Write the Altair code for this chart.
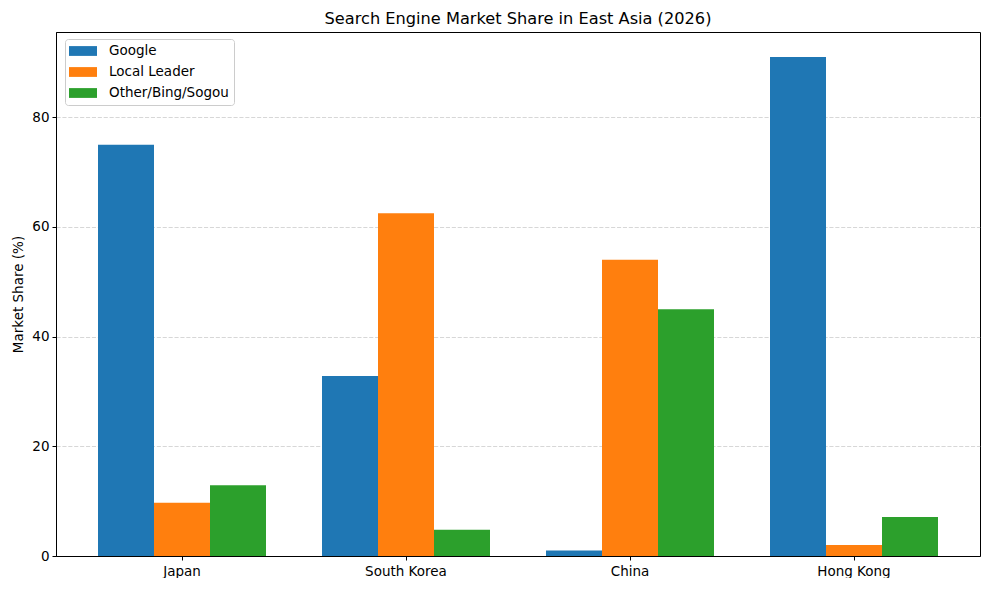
import altair as alt
import pandas as pd

countries = ["Japan", "South Korea", "China", "Hong Kong"]
series = ["Google", "Local Leader", "Other/Bing/Sogou"]
google = [75.0, 32.8, 1.0, 91.0]
local_leader = [9.7, 62.5, 54.0, 2.0]
other = [12.9, 4.8, 45.0, 7.1]
colors = ["#1f77b4", "#ff7f0e", "#2ca02c"]

rows = []
for s, vals in zip(series, [google, local_leader, other]):
    for c, v in zip(countries, vals):
        rows.append({"Country": c, "Engine": s, "Share": v})
df = pd.DataFrame(rows)

FONT = "DejaVu Sans"

chart = alt.Chart(df).mark_bar().encode(
    x=alt.X("Country:N", sort=countries,
            scale=alt.Scale(paddingInner=0.25, paddingOuter=0.1875),
            axis=alt.Axis(title=None, labelAngle=0, labelFontSize=13.5, labelFont=FONT,
                          labelColor="black", tickColor="black", tickSize=4,
                          labelPadding=4, domainColor="black")),
    xOffset=alt.XOffset("Engine:N", sort=series,
                        scale=alt.Scale(paddingInner=0, paddingOuter=0)),
    y=alt.Y("Share:Q", scale=alt.Scale(domain=[0, 95.55], nice=False, zero=True),
            axis=alt.Axis(title="Market Share (%)", values=[0, 20, 40, 60, 80],
                          labelFontSize=13.5, labelFont=FONT, labelColor="black",
                          titleFont=FONT, titleFontSize=13.5, titleFontWeight="normal",
                          titleColor="black", titlePadding=6,
                          tickColor="black", tickSize=4, labelPadding=3,
                          domainColor="black",
                          grid=True, gridColor="#b0b0b0", gridOpacity=0.5,
                          gridDash=[4.1, 1.8], gridWidth=1.1)),
    color=alt.Color("Engine:N", sort=series,
                    scale=alt.Scale(domain=series, range=colors),
                    legend=alt.Legend(title=None, orient="none", legendX=9, legendY=7,
                                      labelFont=FONT, labelFontSize=13.5, labelColor="black",
                                      symbolType="M-2,-0.7L2,-0.7L2,0.7L-2,0.7Z",
                                      symbolSize=196, symbolStrokeWidth=0,
                                      symbolOpacity=1, symbolOffset=6, labelOffset=19,
                                      padding=5, rowPadding=7,
                                      fillColor="white", strokeColor="#cccccc",
                                      cornerRadius=3)),
).properties(
    width=924, height=524,
    title=alt.TitleParams("Search Engine Market Share in East Asia (2026)",
                          font=FONT, fontSize=16.2, fontWeight="normal",
                          color="black", offset=5),
    autosize=alt.AutoSizeParams(type="none"),
    padding={"left": 48, "top": 24, "right": 1, "bottom": 22},
).configure_view(stroke="black", strokeWidth=1)

chart.save("out.html", embed_options={"renderer": "svg", "actions": False})
